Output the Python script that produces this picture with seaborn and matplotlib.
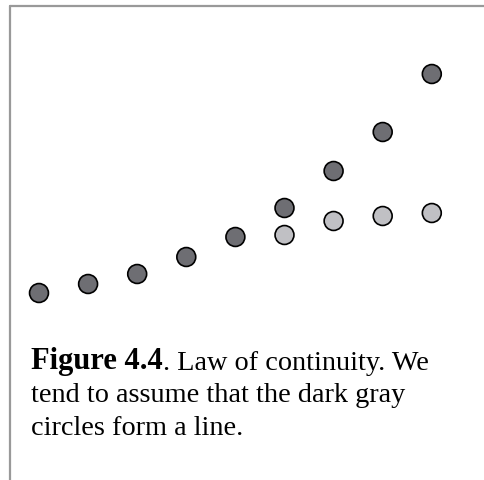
import matplotlib
matplotlib.use("Agg")
import matplotlib.pyplot as plt
import seaborn as sns
import pandas as pd

# Dark gray circles: a continuous rising curve
dark_x = [0, 1, 2, 3, 4, 5, 6, 7, 8]
dark_y = [0.7, 1.6, 2.6, 4.3, 6.3, 9.2, 12.9, 16.8, 22.6]
# Light gray circles: branch that levels off
light_x = [5, 6, 7, 8]
light_y = [6.5, 7.9, 8.4, 8.7]

group_names = ["dark", "light"]
group_colors = ["#6e6e73", "#c0c0c4"]

caption_bold = "Figure 4.4"
caption_lines = [". Law of continuity. We",
                 "tend to assume that the dark gray",
                 "circles form a line."]

df = pd.DataFrame({
    "x": dark_x + light_x,
    "y": dark_y + light_y,
    "group": [group_names[0]] * len(dark_x) + [group_names[1]] * len(light_x),
})

sns.set_theme(style="white")
plt.rcParams["font.family"] = ["Liberation Serif", "DejaVu Serif"]

fig = plt.figure(figsize=(4.84, 4.8), dpi=100)
ax = fig.add_axes([0, 0, 1, 1])
sns.scatterplot(data=df, x="x", y="y", hue="group",
                palette=dict(zip(group_names, group_colors)),
                s=185, edgecolor="black", linewidth=1.2,
                legend=False, ax=ax, zorder=3)
ax.set_xlim(-0.794, 9.063)
ax.set_ylim(-18, 30)
ax.set_axis_off()

# Frame lines along top and left edges
fig.add_artist(plt.Line2D([9.5 / 484, 1], [1 - 6 / 480, 1 - 6 / 480],
                          color="#999999", lw=1.6, transform=fig.transFigure))
fig.add_artist(plt.Line2D([9.5 / 484, 9.5 / 484], [0, 1 - 6 / 480],
                          color="#999999", lw=1.6, transform=fig.transFigure))

fs = 20.3
x0 = 31 / 484
t_bold = fig.text(x0, 1 - 369.5 / 480, caption_bold, fontsize=22,
                  fontweight="bold", va="baseline", ha="left", color="black")
fig.canvas.draw()
bb = t_bold.get_window_extent()
fig.text(bb.x1 / fig.bbox.width, 1 - 369.5 / 480, caption_lines[0],
         fontsize=fs, va="baseline", ha="left", color="black")
fig.text(x0, 1 - 402.5 / 480, caption_lines[1], fontsize=fs,
         va="baseline", ha="left", color="black")
fig.text(x0, 1 - 435 / 480, caption_lines[2], fontsize=fs,
         va="baseline", ha="left", color="black")

fig.savefig("out.png", dpi=100)
